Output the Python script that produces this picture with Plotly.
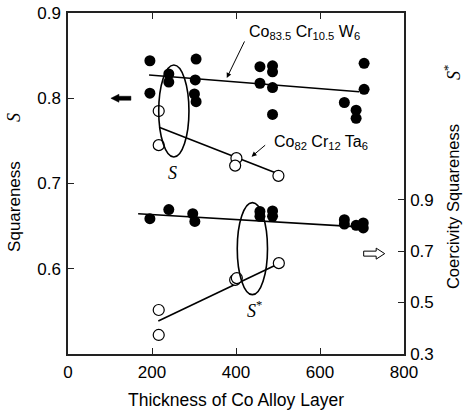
import plotly.graph_objects as go

# ---- data ----
# Squareness S, Co83.5Cr10.5W6 (filled, left axis)
w_s_x = [195, 195, 240, 240, 305, 303, 301, 305, 457, 457, 487, 487, 487, 487, 658, 686, 686, 705, 705]
w_s_y = [0.844, 0.806, 0.8285, 0.819, 0.846, 0.8215, 0.805, 0.796, 0.837, 0.8176, 0.838, 0.831,
         0.8125, 0.781, 0.795, 0.786, 0.7765, 0.841, 0.8105]
w_s_fit_x = [193, 693]
w_s_fit_y = [0.8273, 0.8077]

# Squareness S, Co82Cr12Ta6 (open, left axis)
ta_s_x = [216, 216, 401, 398, 501]
ta_s_y = [0.785, 0.745, 0.7297, 0.721, 0.709]
ta_s_fit_x = [217, 497]
ta_s_fit_y = [0.766, 0.712]

# Coercivity squareness S*, Co83.5Cr10.5W6 (filled, right axis)
w_ss_x = [195, 240, 297, 302, 457, 457, 487, 487, 658, 658, 686, 703, 703]
w_ss_y = [0.826, 0.861, 0.845, 0.815, 0.854, 0.835, 0.856, 0.835, 0.822, 0.805, 0.800, 0.809, 0.790]
w_ss_fit_x = [167, 703]
w_ss_fit_y = [0.845, 0.793]

# Coercivity squareness S*, Co82Cr12Ta6 (open, right axis)
ta_ss_x = [216, 216, 398, 402, 502]
ta_ss_y = [0.471, 0.374, 0.588, 0.595, 0.653]
ta_ss_fit_x = [215, 500]
ta_ss_fit_y = [0.428, 0.650]

x_ticks = [0, 200, 400, 600, 800]
left_ticks = [0.6, 0.7, 0.8, 0.9]
right_ticks = [0.3, 0.5, 0.7, 0.9]

FONT = "Liberation Sans, Arial, sans-serif"
SERIF = "Liberation Serif, Times New Roman, serif"
BLACK = "#000000"

fig = go.Figure()

filled = dict(size=11, color=BLACK, line=dict(width=0))
hollow = dict(size=11, color="white", line=dict(width=1.2, color=BLACK))
ln = dict(color=BLACK, width=1.6)

fig.add_trace(go.Scatter(x=w_s_fit_x, y=w_s_fit_y, mode="lines", line=ln, yaxis="y"))
fig.add_trace(go.Scatter(x=ta_s_fit_x, y=ta_s_fit_y, mode="lines", line=ln, yaxis="y"))
fig.add_trace(go.Scatter(x=w_s_x, y=w_s_y, mode="markers", marker=filled, yaxis="y"))
fig.add_trace(go.Scatter(x=ta_s_x, y=ta_s_y, mode="markers", marker=hollow, yaxis="y"))

fig.add_trace(go.Scatter(x=w_ss_fit_x, y=w_ss_fit_y, mode="lines", line=ln, yaxis="y2"))
fig.add_trace(go.Scatter(x=ta_ss_fit_x, y=ta_ss_fit_y, mode="lines", line=ln, yaxis="y2"))
fig.add_trace(go.Scatter(x=w_ss_x, y=w_ss_y, mode="markers", marker=filled, yaxis="y2"))
fig.add_trace(go.Scatter(x=ta_ss_x, y=ta_ss_y, mode="markers", marker=hollow, yaxis="y2"))

shapes = [
    dict(type="circle", xref="x", yref="y", x0=216, x1=288, y0=0.731, y1=0.839,
         line=dict(color=BLACK, width=1.6)),
    dict(type="circle", xref="x", yref="y", x0=403, x1=475, y0=0.5696, y1=0.6776,
         line=dict(color=BLACK, width=1.6)),
    # filled arrow pointing left (-> left axis)
    dict(type="path", xref="x", yref="y", xsizemode="pixel", ysizemode="pixel",
         xanchor=126, yanchor=0.8,
         path="M-10,0 L-2,4 L-2,2 L10,2 L10,-2 L-2,-2 L-2,-4 Z",
         fillcolor=BLACK, line=dict(color=BLACK, width=0.5)),
    # hollow arrow pointing right (-> right axis)
    dict(type="path", xref="x", yref="y2", xsizemode="pixel", ysizemode="pixel",
         xanchor=729, yanchor=0.69,
         path="M10.5,0 L2,5.5 L2,2.5 L-10.5,2.5 L-10.5,-2.5 L2,-2.5 L2,-5.5 Z",
         fillcolor="white", line=dict(color=BLACK, width=1)),
]

ann = [
    dict(x=426, y=0.8766, xref="x", yref="y", xanchor="left", yanchor="middle", showarrow=False,
         text="Co<sub>83.5</sub> Cr<sub>10.5</sub> W<sub>6</sub>", font=dict(size=16, family=FONT, color=BLACK)),
    dict(x=378, y=0.8238, xref="x", yref="y", ax=422, ay=0.8684, axref="x", ayref="y",
         text="", showarrow=True, arrowhead=2, arrowsize=1, arrowwidth=1, arrowcolor=BLACK),
    dict(x=486, y=0.7476, xref="x", yref="y", xanchor="left", yanchor="middle", showarrow=False,
         text="Co<sub>82</sub> Cr<sub>12</sub> Ta<sub>6</sub>", font=dict(size=16, family=FONT, color=BLACK)),
    dict(x=437, y=0.7315, xref="x", yref="y", ax=473, ay=0.7464, axref="x", ayref="y",
         text="", showarrow=True, arrowhead=2, arrowsize=1, arrowwidth=1, arrowcolor=BLACK),
    dict(x=248, y=0.7124, xref="x", yref="y", showarrow=False, text="<i>S</i>",
         font=dict(size=18, family=SERIF, color=BLACK)),
    dict(x=443, y=0.552, xref="x", yref="y", showarrow=False, text="<i>S</i><sup>*</sup>",
         font=dict(size=18, family=SERIF, color=BLACK)),
    # axis titles
    dict(x=-0.161, y=0.434, xref="paper", yref="paper", xanchor="center", yanchor="middle",
         showarrow=False, textangle=-90,
         text="Squareness", font=dict(size=17, family=FONT, color=BLACK)),
    dict(x=-0.161, y=0.695, xref="paper", yref="paper", xanchor="center", yanchor="middle",
         showarrow=False, textangle=-90,
         text="<i>S</i>", font=dict(size=18, family=SERIF, color=BLACK)),
    dict(x=1.146, y=0.431, xref="paper", yref="paper", xanchor="center", yanchor="middle",
         showarrow=False, textangle=-90,
         text="Coercivity Squareness", font=dict(size=16.5, family=FONT, color=BLACK)),
    dict(x=1.143, y=0.824, xref="paper", yref="paper", xanchor="center", yanchor="middle",
         showarrow=False, textangle=-90,
         text="<i>S</i><sup>*</sup>", font=dict(size=18, family=SERIF, color=BLACK)),
]

axis_common = dict(showgrid=False, zeroline=False, showline=True, linecolor="#222",
                   linewidth=1.5, ticks="inside", ticklen=6, tickwidth=1.2, tickcolor="#222",
                   automargin=False,
                   tickfont=dict(size=17, family=FONT, color=BLACK))

fig.update_layout(
    width=465, height=417,
    margin=dict(l=68, r=61, t=13, b=63, autoexpand=False),
    paper_bgcolor="white", plot_bgcolor="white",
    showlegend=False,
    shapes=shapes, annotations=ann,
    xaxis=dict(range=[0, 800], tickvals=x_ticks, mirror="ticks", ticklabelstandoff=2,
               title=dict(text="Thickness of Co Alloy Layer", font=dict(size=17.5, family=FONT, color=BLACK),
                          standoff=13),
               **axis_common),
    yaxis=dict(range=[0.5, 0.9], tickvals=left_ticks, ticktext=[f"{v:.1f}" for v in left_ticks],
               ticklabelstandoff=2, **axis_common),
    yaxis2=dict(range=[0.3, 1.625], tickvals=right_ticks, ticktext=[f"{v:.1f}" for v in right_ticks],
                overlaying="y", side="right", ticklabelstandoff=1, **axis_common),
)

fig.write_html("out.html")
